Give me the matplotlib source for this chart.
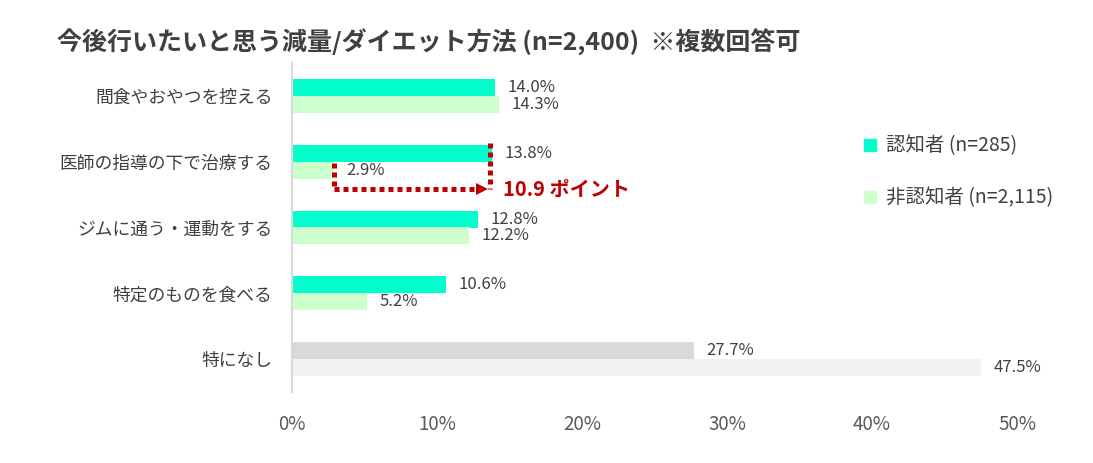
import numpy as np
import matplotlib
matplotlib.use("Agg")
import matplotlib.pyplot as plt
from matplotlib.lines import Line2D

plt.rcParams['font.family'] = ['Noto Sans CJK JP', 'DejaVu Sans']

categories = ['間食やおやつを控える', '医師の指導の下で治療する', 'ジムに通う・運動をする',
              '特定のものを食べる', '特になし']
aware = [14.0, 13.8, 12.8, 10.6, 27.7]
unaware = [14.3, 2.9, 12.2, 5.2, 47.5]
legend_labels = ['認知者 (n=285)', '非認知者 (n=2,115)']
title = '今後行いたいと思う減量/ダイエット方法 (n=2,400)  ※複数回答可'
xticks = [0, 10, 20, 30, 40, 50]
gap_text = '10.9 ポイント'

teal = '#00FFCC'
light = '#CCFFCC'
gray_dark = '#D9D9D9'
gray_light = '#F2F2F2'
text_col = '#404040'
red = '#C00000'

fig = plt.figure(figsize=(10.93, 4.63), dpi=100)
ax = fig.add_axes([292 / 1093, 71 / 463, (1017 - 292) / 1093, 329 / 463])

y = np.arange(len(categories))
h = 0.258
c1 = [teal] * 4 + [gray_dark]
c2 = [light] * 4 + [gray_light]
ax.barh(y - h / 2, aware, height=h, color=c1)
ax.barh(y + h / 2, unaware, height=h, color=c2)

for i in range(len(categories)):
    ax.annotate(f'{aware[i]:.1f}%', (aware[i], y[i] - h / 2), xytext=(9, 0),
                textcoords='offset points', va='center', ha='left',
                fontsize=12, color=text_col)
    ax.annotate(f'{unaware[i]:.1f}%', (unaware[i], y[i] + h / 2), xytext=(9, 0),
                textcoords='offset points', va='center', ha='left',
                fontsize=12, color=text_col)

ax.set_xlim(0, 50)
ax.set_ylim(len(categories) - 0.5, -0.5)
ax.set_yticks(y)
ax.set_yticklabels(categories, fontsize=12.8, color=text_col)
ax.set_xticks(xticks)
ax.set_xticklabels([f'{t}%' for t in xticks], fontsize=13.5, color='#595959')
ax.tick_params(axis='y', length=0, pad=14)
ax.tick_params(axis='x', length=0, pad=16)
for s in ['top', 'right', 'bottom']:
    ax.spines[s].set_visible(False)
ax.spines['left'].set_color(gray_dark)
ax.spines['left'].set_linewidth(1.5)

# gap annotation between aware / unaware for row 2
x0 = unaware[1]
x1 = aware[1] - 0.15
yb = 1.42
dot = dict(color=red, lw=3.6, linestyle=(0, (1, 0.8)), solid_capstyle='butt')
ax.plot([x0, x0], [1.02, yb], **dot)
ax.plot([x0, x1 - 0.75], [yb, yb], **dot)
ax.plot([x1, x1], [0.72, yb], **dot)
ax.plot([x1 - 0.55], [yb], marker='>', markersize=9, color=red, markeredgewidth=0)
ax.text(x1 + 0.9, yb, gap_text, color=red, fontsize=14.5, fontweight='bold',
        va='center', ha='left')

handles = [Line2D([], [], marker='s', linestyle='none', markersize=8,
                  markerfacecolor=teal, markeredgecolor=teal),
           Line2D([], [], marker='s', linestyle='none', markersize=8,
                  markerfacecolor=light, markeredgecolor=light)]
leg = ax.legend(handles, legend_labels, loc='upper left',
                bbox_to_anchor=(845 / 1093, 1 - 118 / 463), bbox_transform=fig.transFigure,
                frameon=False, fontsize=14, labelspacing=1.6, handlelength=0.8,
                handletextpad=0.4, labelcolor=text_col)

fig.text(57 / 1093, 1 - 42 / 463, title, fontsize=18, fontweight='bold',
         color=text_col, va='center', ha='left')

fig.savefig('out.png', dpi=100, facecolor='white')
